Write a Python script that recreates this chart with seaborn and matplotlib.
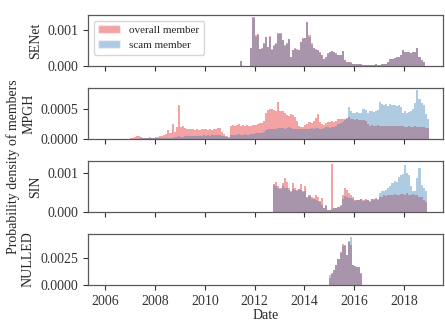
import numpy as np
import pandas as pd
import matplotlib
matplotlib.use("Agg")
import matplotlib.pyplot as plt
import matplotlib.dates as mdates
from matplotlib.patches import Patch
import seaborn as sns

# Monthly membership density (units of 1e-5 per day), one value per calendar month
forum_names = ["SENet", "MPGH", "SIN", "NULLED"]
first_months = ["2011-06-01", "2007-01-01", "2012-10-01", "2015-01-01"]

senet_overall = [
    14, 0, 0, 0, 0, 50, 134,
    85, 87, 46, 48, 62, 81, 53, 82, 46, 57, 62, 90,
    90, 71, 57, 62, 74, 25, 44, 48, 46, 44, 67, 76,
    78, 122, 85, 62, 50, 46, 44, 37, 31, 20, 25, 34,
    39, 41, 39, 34, 30, 31, 41, 16, 11, 9, 9, 6,
    6, 6, 5, 4, 3, 3, 2, 3, 3, 3, 4, 3,
    3, 4, 5, 6, 11, 18, 20, 22, 25, 24, 30, 44,
    39, 37, 37, 35, 37, 39, 50, 25, 16, 10,
]
senet_scam = [
    14, 0, 0, 0, 0, 48, 132,
    80, 84, 46, 47, 60, 80, 52, 81, 45, 56, 61, 88,
    89, 70, 56, 61, 73, 25, 43, 47, 45, 43, 66, 75,
    77, 121, 80, 58, 48, 44, 43, 36, 30, 20, 24, 33,
    38, 40, 39, 33, 30, 30, 40, 16, 11, 9, 8, 6,
    6, 6, 5, 4, 3, 3, 2, 3, 3, 3, 4, 3,
    3, 4, 5, 6, 11, 18, 20, 22, 25, 24, 30, 44,
    39, 37, 37, 35, 37, 39, 50, 25, 16, 10,
]

mpgh_overall = [
    2, 2, 3, 4, 5, 3, 2, 2, 2, 3, 2, 2,
    3, 3, 4, 5, 6, 8, 14, 10, 25, 12, 20, 56,
    20, 22, 18, 17, 16, 17, 16, 15, 16, 15, 16, 17,
    16, 15, 16, 15, 17, 16, 18, 18, 12, 8, 5, 3,
    22, 23, 22, 23, 24, 22, 23, 22, 23, 21, 22, 23,
    23, 24, 26, 27, 30, 44, 48, 50, 50, 49, 47, 62,
    47, 47, 44, 40, 39, 42, 40, 36, 30, 22, 19, 20,
    23, 25, 28, 27, 29, 35, 42, 28, 25, 23, 27, 28,
    28, 29, 28, 30, 33, 33, 34, 33, 35, 36, 34, 33,
    32, 33, 32, 31, 32, 30, 24, 22, 23, 22, 22, 23,
    22, 21, 22, 21, 22, 21, 22, 21, 21, 22, 21, 21,
    20, 20, 21, 20, 20, 21, 20, 19, 20, 19, 18, 18,
]
mpgh_scam = [
    0, 0, 0, 0, 0, 1, 1, 1, 1, 1, 1, 1,
    1, 1, 1, 1, 2, 2, 2, 2, 2, 3, 3, 4,
    3, 3, 4, 4, 4, 4, 5, 5, 5, 5, 5, 6,
    5, 6, 5, 6, 6, 6, 6, 6, 5, 4, 3, 2,
    7, 7, 7, 7, 8, 7, 7, 8, 7, 7, 8, 8,
    9, 9, 10, 10, 11, 15, 16, 17, 17, 16, 17, 18,
    18, 18, 17, 18, 19, 18, 17, 17, 16, 16, 17, 17,
    17, 17, 17, 18, 17, 18, 18, 17, 17, 18, 19, 20,
    18, 19, 20, 22, 24, 26, 28, 31, 34, 54, 46, 44,
    44, 45, 43, 44, 50, 48, 43, 47, 46, 45, 47, 49,
    61, 58, 56, 59, 55, 58, 56, 57, 55, 56, 54, 44,
    46, 44, 45, 47, 50, 60, 81, 67, 60, 56, 42, 33,
]

sin_overall = [
    71, 77, 65,
    60, 73, 86, 76, 60, 52, 73, 62, 56, 59, 71, 52,
    65, 37, 44, 39, 35, 44, 37, 27, 35, 10, 14, 6,
    6, 123, 10, 10, 12, 18, 44, 60, 56, 48, 44, 37,
    29, 30, 31, 34, 29, 32, 30, 27, 34, 32, 35, 31,
    37, 39, 42, 40, 42, 44, 44, 45, 42, 44, 45, 45,
    44, 47, 44, 42, 45, 44, 42, 39, 39, 30, 25,
]
sin_scam = [
    69, 66, 62,
    58, 65, 60, 62, 55, 50, 58, 56, 54, 57, 55, 50,
    52, 36, 40, 33, 32, 30, 28, 26, 18, 10, 18, 5,
    6, 8, 9, 10, 12, 16, 32, 40, 38, 35, 36, 32,
    28, 29, 30, 32, 28, 30, 29, 26, 32, 31, 34, 33,
    48, 52, 54, 56, 62, 66, 74, 78, 76, 90, 94, 96,
    119, 98, 95, 65, 52, 54, 86, 111, 69, 60, 52,
]

nulled_overall = [66, 102, 141, 186, 241, 301, 373, 361, 277, 397, 367, 186,
                  174, 162, 168, 111]
nulled_scam = [90, 110, 140, 180, 235, 295, 360, 355, 270, 400, 442, 180,
               170, 160, 165, 100]

overall_series = [senet_overall, mpgh_overall, sin_overall, nulled_overall]
scam_series = [senet_scam, mpgh_scam, sin_scam, nulled_scam]
y_ticks = [[0, 0.001], [0, 0.0005], [0, 0.001], [0, 0.0025]]

RED = "#e41a1c"
BLUE = "#377eb8"
ALPHA = 0.4

sns.set_theme(style="ticks")
plt.rcParams["font.family"] = ["Liberation Serif", "DejaVu Serif"]
plt.rcParams["axes.edgecolor"] = "0.35"
plt.rcParams["xtick.color"] = "0.2"
plt.rcParams["ytick.color"] = "0.2"

fig, axes = plt.subplots(4, 1, sharex=True, figsize=(4.45, 3.26), dpi=100)
fig.subplots_adjust(left=0.198, right=0.9955, top=0.954, bottom=0.126, hspace=0.44)


def month_frame(start, values):
    edges = pd.date_range(start, periods=len(values) + 1, freq="MS")
    edge_num = mdates.date2num(edges.to_pydatetime())
    centers = 0.5 * (edge_num[:-1] + edge_num[1:])
    df = pd.DataFrame({"date": centers, "density": np.asarray(values, float) * 1e-5})
    return df, [float(e) for e in edge_num]


for ax, name, start, overall, scam, ticks in zip(
        axes, forum_names, first_months, overall_series, scam_series, y_ticks):
    df_all, edges = month_frame(start, overall)
    df_scam, _ = month_frame(start, scam)
    sns.histplot(data=df_all, x="date", weights="density", bins=edges, stat="count",
                 color=RED, alpha=ALPHA, linewidth=0, ax=ax)
    sns.histplot(data=df_scam, x="date", weights="density", bins=edges, stat="count",
                 color=BLUE, alpha=ALPHA, linewidth=0, ax=ax)
    ax.set_yticks(ticks)
    ax.set_ylabel(name, fontsize=10)
    ax.set_xlabel("")
    ax.tick_params(labelsize=10, length=3.5, width=0.8, direction="out")
    for sp in ax.spines.values():
        sp.set_visible(True)
        sp.set_linewidth(0.9)

axes[-1].xaxis.set_major_locator(mdates.YearLocator(2))
axes[-1].xaxis.set_major_formatter(mdates.DateFormatter("%Y"))
axes[-1].set_xlim(mdates.date2num(pd.Timestamp("2005-04-26")),
                  mdates.date2num(pd.Timestamp("2019-07-27")))
axes[-1].set_xlabel("Date", fontsize=10, labelpad=1)

handles = [Patch(facecolor=RED, alpha=ALPHA, label="overall member"),
           Patch(facecolor=BLUE, alpha=ALPHA, label="scam member")]
axes[0].legend(handles=handles, loc="upper left", fontsize=8, frameon=True)

fig.text(0.03, 0.488, "Probability density of members", rotation=90,
         ha="center", va="center", fontsize=10)

fig.savefig("out.png", dpi=100)
